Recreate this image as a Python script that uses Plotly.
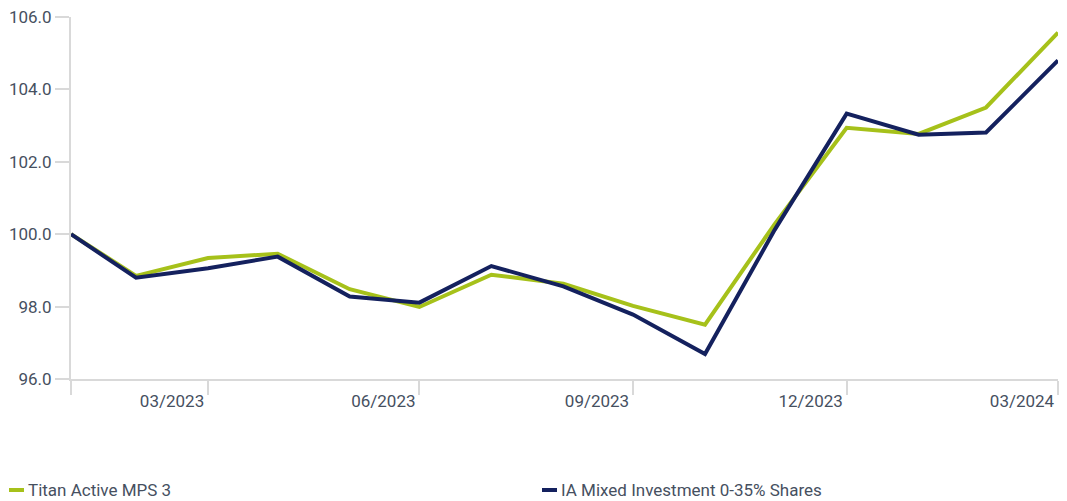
import plotly.graph_objects as go

dates = ["2023-01-31", "2023-02-28", "2023-03-31", "2023-04-30", "2023-05-31",
         "2023-06-30", "2023-07-31", "2023-08-31", "2023-09-30", "2023-10-31",
         "2023-11-30", "2023-12-31", "2024-01-31", "2024-02-29", "2024-03-31"]
titan = [100.0, 98.85, 99.34, 99.46, 98.48, 97.99, 98.88, 98.63, 98.02, 97.50,
         100.28, 102.94, 102.77, 103.50, 105.57]
ia_mixed = [100.0, 98.80, 99.06, 99.38, 98.28, 98.11, 99.12, 98.56, 97.78, 96.69,
            100.12, 103.33, 102.75, 102.81, 104.80]
series_names = ["Titan Active MPS 3", "IA Mixed Investment 0-35% Shares"]
colors = ["#A6C11A", "#14215E"]

tick_dates = ["2023-01-31", "2023-03-31", "2023-06-30", "2023-09-30", "2023-12-31", "2024-03-31"]
tick_text = ["", "03/2023", "06/2023", "09/2023", "12/2023", "03/2024"]
y_ticks = [96, 98, 100, 102, 104, 106]

FONT = "Roboto, Liberation Sans Narrow, sans-serif"
TXT = "#46505f"
AX = "#d9d9d9"

L, R, T, B = 71, 9, 17, 122
W, H = 1067, 501
PW, PH = W - L - R, H - T - B

fig = go.Figure()
for name, vals, col in zip(series_names, [titan, ia_mixed], colors):
    fig.add_trace(go.Scatter(x=dates, y=vals, mode="lines", name=name,
                             line=dict(color=col, width=4), showlegend=False))

fig.update_layout(
    width=W, height=H,
    margin=dict(l=L, r=R, t=T, b=B),
    paper_bgcolor="white", plot_bgcolor="white",
    font=dict(family=FONT, size=17, color=TXT),
    xaxis=dict(type="date", range=[dates[0], dates[-1]], automargin=False,
               tickmode="array", tickvals=tick_dates, ticktext=tick_text,
               ticks="outside", ticklen=14, tickwidth=2, tickcolor=AX,
               showline=True, linecolor=AX, linewidth=2,
               showgrid=False, zeroline=False, ticklabelshift=-36,
               ticklabelstandoff=-8,
               tickfont=dict(family=FONT, size=17, color=TXT)),
    yaxis=dict(range=[96, 106], tickmode="array", tickvals=y_ticks, automargin=False,
               tickformat=".1f", ticks="outside", ticklen=14, tickwidth=2,
               tickcolor=AX, showline=True, linecolor=AX, linewidth=2,
               showgrid=False, zeroline=False,
               tickfont=dict(family=FONT, size=17, color=TXT)),
)

# legend drawn as swatches + text at bottom
legend_x = [9, 542]
ly = (H - B - 490) / PH
for name, col, lx in zip(series_names, colors, legend_x):
    fig.add_shape(type="line", xref="paper", yref="paper",
                  x0=(lx - L) / PW, x1=(lx + 15 - L) / PW, y0=ly, y1=ly,
                  line=dict(color=col, width=4))
    fig.add_annotation(xref="paper", yref="paper", x=(lx + 17 - L) / PW,
                       y=ly, text=name, showarrow=False,
                       xanchor="left", yanchor="middle",
                       font=dict(family=FONT, size=17, color=TXT))

fig.write_html("out.html", config={"displayModeBar": False},
               post_script="document.body.style.margin='0';document.body.style.overflow='hidden';")
